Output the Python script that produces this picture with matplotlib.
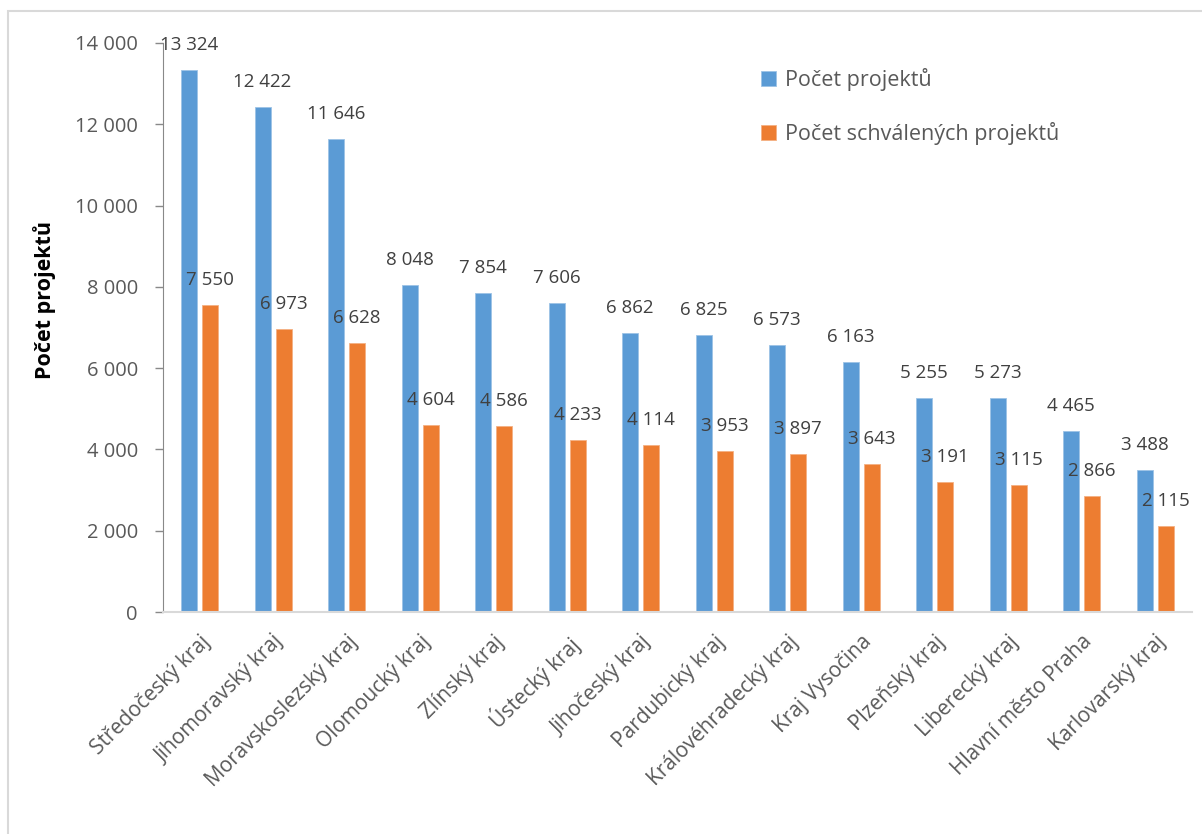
import matplotlib
matplotlib.use("Agg")
import matplotlib.pyplot as plt
import numpy as np
from matplotlib.patches import Rectangle

plt.rcParams["font.family"] = ["Open Sans", "DejaVu Sans"]

kraje = [
    "Středočeský kraj", "Jihomoravský kraj", "Moravskoslezský kraj", "Olomoucký kraj",
    "Zlínský kraj", "Ústecký kraj", "Jihočeský kraj", "Pardubický kraj",
    "Královéhradecký kraj", "Kraj Vysočina", "Plzeňský kraj", "Liberecký kraj",
    "Hlavní město Praha", "Karlovarský kraj",
]
pocet_projektu = [13324, 12422, 11646, 8048, 7854, 7606, 6862, 6825, 6573, 6163, 5255, 5273, 4465, 3488]
pocet_schvalenych = [7550, 6973, 6628, 4604, 4586, 4233, 4114, 3953, 3897, 3643, 3191, 3115, 2866, 2115]
y_ticks = [0, 2000, 4000, 6000, 8000, 10000, 12000, 14000]

BLUE = "#5B9BD5"
ORANGE = "#ED7D31"
TXT = "#595959"
LBL = "#404040"


def fmt(v):
    return f"{v:,}".replace(",", " ")


W, H = 1202, 834
fig = plt.figure(figsize=(W / 100, H / 100), dpi=100, facecolor="white")

# chart frame (cut on the right/bottom like the original)
fig.patches.append(Rectangle((8 / W, -0.1), 1.5, 1 - 11 / H + 0.1, transform=fig.transFigure,
                             fill=False, edgecolor="#d9d9d9", linewidth=1.5))

ax = fig.add_axes([162.8 / W, 1 - 612 / H, (1192 - 162.8) / W, (612 - 43) / H])
x = np.arange(len(kraje))
bw = 0.218
off = 0.143
b1 = ax.bar(x - off, pocet_projektu, bw, color=BLUE, edgecolor="#9dc3e6", linewidth=0.6,
            label="Počet projektů")
b2 = ax.bar(x + off, pocet_schvalenych, bw, color=ORANGE, edgecolor="#f4b183", linewidth=0.6,
            label="Počet schválených projektů")

for bars, vals in ((b1, pocet_projektu), (b2, pocet_schvalenych)):
    for r, v in zip(bars, vals):
        ax.annotate(fmt(v), (r.get_x() + r.get_width() / 2, v), xytext=(0, 18),
                    textcoords="offset points", ha="center", va="center",
                    fontsize=13.5, color=LBL, annotation_clip=False)

ax.set_xlim(-0.5, len(kraje) - 0.5)
ax.set_ylim(0, 14000)
ax.set_yticks(y_ticks)
ax.set_yticklabels([fmt(t) for t in y_ticks], fontsize=14.5, color=TXT)
ax.tick_params(axis="y", length=6, width=1, color="#898989", pad=12)
ax.set_xticks(x)
ax.set_xticklabels(kraje, rotation=45, ha="right", rotation_mode="anchor",
                   fontsize=15, color=TXT)
ax.tick_params(axis="x", length=0, pad=14)

for s in ("top", "right"):
    ax.spines[s].set_visible(False)
ax.spines["left"].set_color("#898989")
ax.spines["bottom"].set_color("#d9d9d9")
ax.spines["bottom"].set_linewidth(1.5)

fig.text(45 / W, 1 - 300 / H, "Počet projektů", rotation=90, ha="center", va="center",
         fontsize=15.5, fontweight="bold", color="black")

leg = fig.legend(handles=[b1, b2], loc="upper left", bbox_to_anchor=(761 / W, 1 - 68 / H),
                 bbox_transform=fig.transFigure, frameon=False, fontsize=15.5,
                 labelcolor=TXT, handlelength=0.7, handleheight=0.7, handletextpad=0.4,
                 labelspacing=1.45, borderpad=0, borderaxespad=0)

fig.savefig("out.png", dpi=100, facecolor="white")
